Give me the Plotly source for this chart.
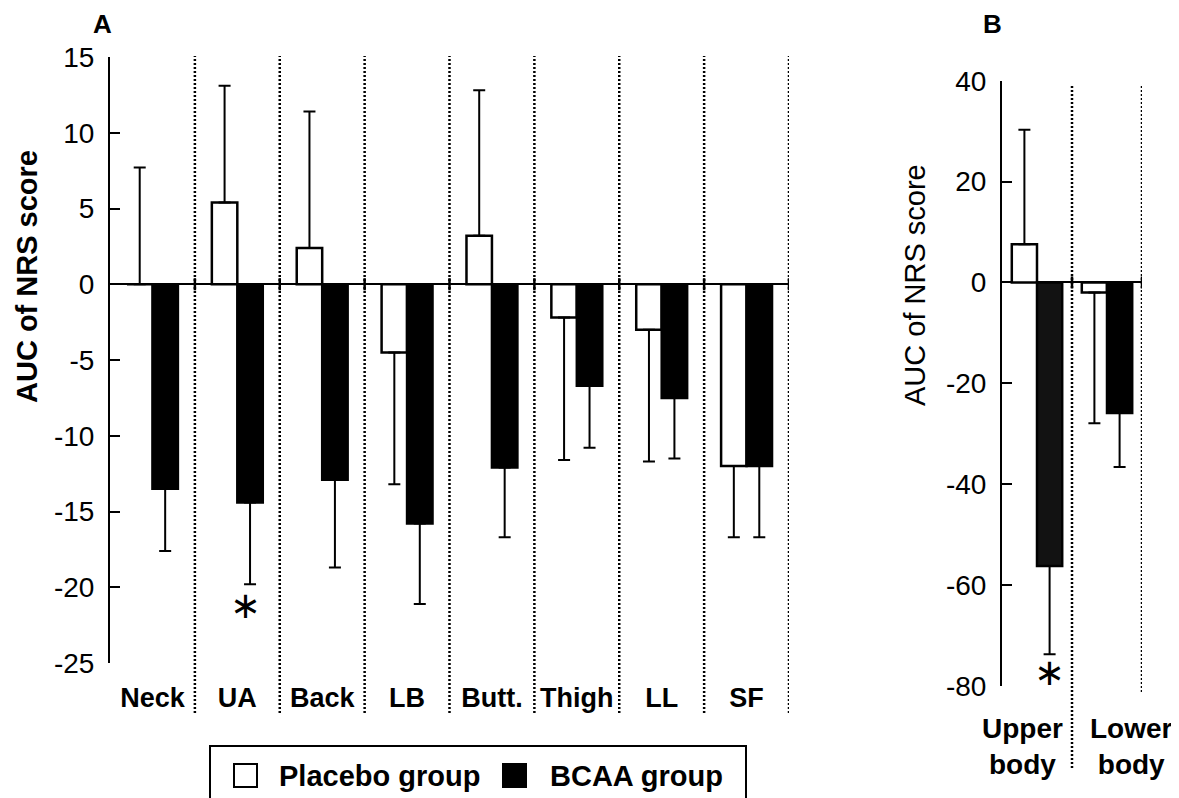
import plotly.graph_objects as go

# ---------------- data ----------------
regions = ["Neck", "UA", "Back", "LB", "Butt.", "Thigh", "LL", "SF"]
placebo_a = [0.0, 5.4, 2.4, -4.5, 3.2, -2.2, -3.0, -12.0]
placebo_a_sd = [7.7, 7.7, 9.0, 8.7, 9.6, 9.4, 8.7, 4.7]
bcaa_a = [-13.5, -14.4, -12.9, -15.8, -12.1, -6.7, -7.5, -12.0]
bcaa_a_sd = [4.1, 5.4, 5.8, 5.3, 4.6, 4.1, 4.0, 4.7]

regions_b = ["Upper body", "Lower body"]
region_b_labels = ["Upper<br>body", "Lower<br>body"]
placebo_b = [7.6, -2.0]
placebo_b_sd = [22.7, 25.9]
bcaa_b = [-56.2, -25.9]
bcaa_b_sd = [17.5, 10.7]

yticks_a = [15, 10, 5, 0, -5, -10, -15, -20, -25]
yticks_b = [40, 20, 0, -20, -40, -60, -80]

FONT = "Liberation Sans, Arial, Helvetica, sans-serif"
W, H = 1179, 798
OFF = 8  # page body margin


def px(x):
    return (x - OFF) / W


def py(y):
    return 1 - (y - OFF) / H


def one_sided(vals, sds):
    up = [s if v >= 0 else 0 for v, s in zip(vals, sds)]
    dn = [s if v < 0 else 0 for v, s in zip(vals, sds)]
    return up, dn


fig = go.Figure()


def add_bars(xs, vals, sds, color, name, xaxis, yaxis, offset, width):
    up, dn = one_sided(vals, sds)
    fig.add_trace(go.Bar(
        x=xs, y=vals, name=name, xaxis=xaxis, yaxis=yaxis,
        offset=offset, width=width,
        marker=dict(color=color, line=dict(color="black", width=2.5)),
        error_y=dict(type="data", symmetric=False, array=up, arrayminus=dn,
                     color="black", thickness=2, width=6),
        showlegend=False,
    ))


add_bars(regions, placebo_a, placebo_a_sd, "white", "Placebo group", "x", "y", -0.3, 0.3)
add_bars(regions, bcaa_a, bcaa_a_sd, "black", "BCAA group", "x", "y", 0.0, 0.3)
add_bars(regions_b, placebo_b, placebo_b_sd, "white", "Placebo group", "x2", "y2", -0.36, 0.36)
add_bars(regions_b, bcaa_b, bcaa_b_sd, ["#121212", "black"], "BCAA group", "x2", "y2", 0.0, 0.36)

axis_common = dict(showgrid=False, color="black")

fig.update_layout(
    width=W, height=H, autosize=False,
    margin=dict(l=0, r=0, t=0, b=0, pad=0, autoexpand=False),
    paper_bgcolor="white", plot_bgcolor="white",
    barmode="overlay",
    font=dict(family=FONT, color="black"),
    xaxis=dict(domain=[px(110), px(789)], anchor="y", range=[-0.5, 7.5],
               type="category", categoryorder="array", categoryarray=regions,
               tickvals=regions, ticktext=["<b>%s</b>" % r for r in regions],
               tickfont=dict(size=27), ticks="", showline=False,
               ticklabelstandoff=16, automargin=False, **axis_common),
    yaxis=dict(domain=[py(663), py(57)], anchor="x", range=[-25, 15],
               tickvals=yticks_a, ticktext=[str(v) for v in yticks_a],
               ticks="inside", ticklen=10, tickwidth=2,
               showline=True, linewidth=2, linecolor="black",
               zeroline=True, zerolinecolor="black", zerolinewidth=2,
               tickfont=dict(size=28), ticklabelstandoff=8, automargin=False, **axis_common),
    xaxis2=dict(domain=[px(1002), px(1142)], anchor="y2", range=[-0.5, 1.5],
                type="category", categoryorder="array", categoryarray=regions_b,
                showticklabels=False, ticks="", showline=False, automargin=False, **axis_common),
    yaxis2=dict(domain=[py(686), py(80.7)], anchor="x2", range=[-80, 40],
                tickvals=yticks_b, ticktext=[str(v) for v in yticks_b],
                ticks="inside", ticklen=10, tickwidth=2,
                showline=True, linewidth=2, linecolor="black",
                zeroline=True, zerolinecolor="black", zerolinewidth=2,
                tickfont=dict(size=28), ticklabelstandoff=8, automargin=False, **axis_common),
)

DOT = dict(color="black", width=2.5, dash="2px,2px")
shapes = []
# dotted separators, panel A
for i in range(len(regions)):
    shapes.append(dict(type="line", xref="x", yref="paper", x0=i + 0.5, x1=i + 0.5,
                       y0=py(713), y1=py(56), line=DOT))
    shapes.append(dict(type="line", xref="x", yref="y", x0=i + 0.5, x1=i + 0.5,
                       y0=-0.4, y1=0.4, line=dict(color="black", width=2.5)))
# dotted separators, panel B
b_bottoms = [768, 692]
for i in range(len(regions_b)):
    shapes.append(dict(type="line", xref="x2", yref="paper", x0=i + 0.5, x1=i + 0.5,
                       y0=py(b_bottoms[i]), y1=py(84), line=DOT))
    shapes.append(dict(type="line", xref="x2", yref="y2", x0=i + 0.5, x1=i + 0.5,
                       y0=-1.2, y1=1.2, line=dict(color="black", width=2.5)))
# legend box and swatches
shapes.append(dict(type="rect", xref="paper", yref="paper", x0=px(210), x1=px(746),
                   y0=py(810), y1=py(746), line=dict(color="black", width=2), fillcolor="rgba(0,0,0,0)"))
shapes.append(dict(type="rect", xref="paper", yref="paper", x0=px(234), x1=px(257),
                   y0=py(787), y1=py(764), line=dict(color="black", width=2), fillcolor="white"))
shapes.append(dict(type="rect", xref="paper", yref="paper", x0=px(503), x1=px(526),
                   y0=py(787), y1=py(764), line=dict(color="black", width=2), fillcolor="black"))

STAR = dict(family="DejaVu Sans", size=37)
annotations = [
    dict(text="<b>A</b>", xref="paper", yref="paper", x=px(102), y=py(24), showarrow=False,
         font=dict(size=26), xanchor="center", yanchor="middle"),
    dict(text="<b>B</b>", xref="paper", yref="paper", x=px(992), y=py(24), showarrow=False,
         font=dict(size=26), xanchor="center", yanchor="middle"),
    dict(text="<b>AUC of NRS score</b>", xref="paper", yref="paper", x=px(27), y=py(277),
         textangle=-90, showarrow=False, font=dict(size=29), xanchor="center", yanchor="middle"),
    dict(text="AUC of NRS score", xref="paper", yref="paper", x=px(915), y=py(285),
         textangle=-90, showarrow=False, font=dict(size=29), xanchor="center", yanchor="middle"),
    dict(text="\u2217", xref="x", yref="y", x="UA", y=-21.2, xshift=8, showarrow=False,
         font=STAR, xanchor="center", yanchor="middle"),
    dict(text="\u2217", xref="x2", yref="y2", x="Upper body", y=-77.4, xshift=12,
         showarrow=False, font=STAR, xanchor="center", yanchor="middle"),
    dict(text="<b>Placebo group</b>", xref="paper", yref="paper", x=px(277), y=py(776),
         showarrow=False, font=dict(size=29), xanchor="left", yanchor="middle"),
    dict(text="<b>BCAA group</b>", xref="paper", yref="paper", x=px(548), y=py(776),
         showarrow=False, font=dict(size=29), xanchor="left", yanchor="middle"),
]
b_shift = [-15, 24]
for i, (r, lab) in enumerate(zip(regions_b, region_b_labels)):
    annotations.append(dict(text="<b>%s</b>" % lab, xref="x2", yref="paper", x=r, xshift=b_shift[i],
                            y=py(746), showarrow=False, font=dict(size=28),
                            xanchor="center", yanchor="middle"))

fig.update_layout(shapes=shapes, annotations=annotations)
fig.write_html("out.html")
